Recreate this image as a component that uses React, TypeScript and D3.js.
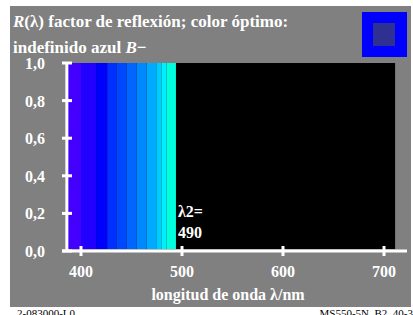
import React from "react";
import * as d3 from "d3";

const bandEdges = [386, 400, 415, 426, 435, 445, 455, 465, 474.5, 479.5, 484.5, 494];
const bandColors = ["#4400ff", "#2200ff", "#0000ff", "#0030ff", "#0048ff", "#0066ff", "#0088ff", "#00aaff", "#00ccff", "#00eeff", "#00ffdd"];
const reflectance = [1, 1, 1, 1, 1, 1, 1, 1, 1, 1, 1];
const xTicks = [400, 500, 600, 700];
const yTicks = [0, 0.2, 0.4, 0.6, 0.8, 1.0];
const lambda2 = 490;

export default function App() {
  const W = 413, H = 315;
  const x = d3.scaleLinear().domain([400, 700]).range([81, 384]);
  const y = d3.scaleLinear().domain([0, 1]).range([251, 63]);
  const x0 = x(386), x1 = x(711);
  const fmt = (v: number) => d3.format(".1f")(v).replace(".", ",");
  const serif = "Liberation Serif, Times New Roman, serif";
  const bands = reflectance.map((r, i) => ({ a: bandEdges[i], b: bandEdges[i + 1], r, c: bandColors[i] }));
  return (
    <svg width={W} height={H} style={{ position: "absolute", left: 0, top: 0, background: "#fff", fontFamily: serif }}>
      <rect x={10} y={6} width={401} height={301} fill="#808080" />
      <text x={13} y={27} fontSize={17} fontWeight="bold" fill="#fff">
        <tspan fontStyle="italic">R</tspan>(λ) factor de reflexión; color óptimo:
      </text>
      <text x={13} y={53} fontSize={17} fontWeight="bold" fill="#fff">
        indefinido azul <tspan fontStyle="italic">B</tspan>−
      </text>
      <rect x={362} y={12} width={45} height={45} fill="#0000ff" />
      <rect x={373} y={23} width={22} height={23} fill="#2e3192" />
      <rect x={x0} y={y(1)} width={x1 - x0} height={y(0) - y(1) - 2} fill="#000" />
      {bands.map((d, i) => (
        <rect key={i} x={x(d.a)} y={y(d.r)} width={x(d.b) - x(d.a)} height={y(0) - y(d.r) - 2} fill={d.c} />
      ))}
      <line x1={x0} x2={x0} y1={y(1)} y2={y(0)} stroke="#fff" strokeWidth={3} />
      <line x1={62} x2={407} y1={y(0)} y2={y(0)} stroke="#fff" strokeWidth={3} />
      {yTicks.map((t) => (
        <g key={t}>
          <line x1={62} x2={72} y1={y(t)} y2={y(t)} stroke="#fff" strokeWidth={3} />
          <text x={45} y={y(t) + 6} fontSize={16} fontWeight="bold" fill="#fff" textAnchor="end">{fmt(t)}</text>
        </g>
      ))}
      {xTicks.map((t) => (
        <g key={t}>
          <line x1={x(t)} x2={x(t)} y1={y(0) - 5} y2={y(0) + 5} stroke="#fff" strokeWidth={3} />
          <text x={x(t)} y={277} fontSize={16} fontWeight="bold" fill="#fff" textAnchor="middle">{t}</text>
        </g>
      ))}
      <text x={228} y={300} fontSize={16} fontWeight="bold" fill="#fff" textAnchor="middle">longitud de onda λ/nm</text>
      <text x={x(lambda2) + 6} y={217} fontSize={16} fontWeight="bold" fill="#fff">λ2=</text>
      <text x={x(lambda2) + 6} y={238} fontSize={16} fontWeight="bold" fill="#fff">{lambda2}</text>
      <text x={17} y={317} fontSize={11} fill="#000">2-083000-L0</text>
      <text x={413} y={317} fontSize={11} fill="#000" textAnchor="end">MS550-5N_B2_40-3</text>
    </svg>
  );
}
